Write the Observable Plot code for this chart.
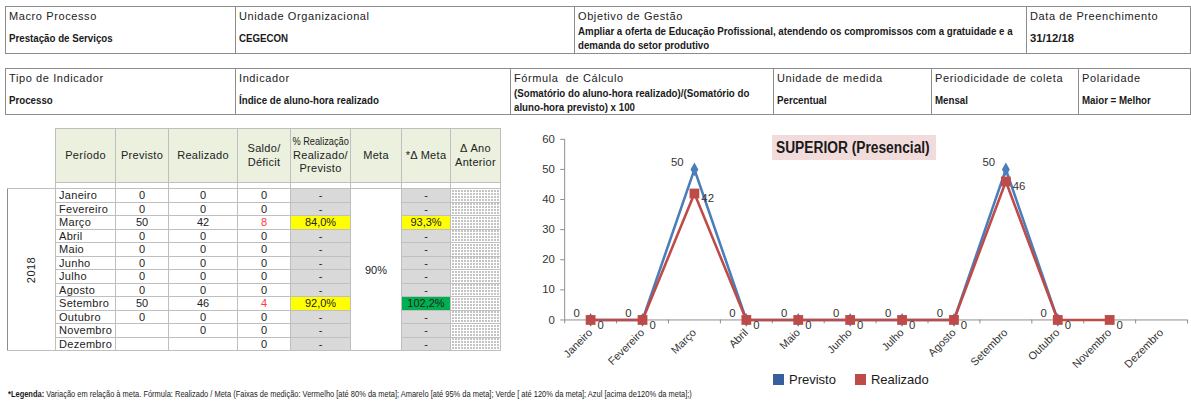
<!DOCTYPE html>
<html><head><meta charset="utf-8">
<script src="https://cdn.jsdelivr.net/npm/d3@7"></script>
<script src="https://cdn.jsdelivr.net/npm/@observablehq/plot@0.6"></script>
<style>
html,body{margin:0;padding:0;background:#fff;overflow:hidden;}
#page{position:relative;width:1191px;height:402px;overflow:hidden;font-family:"Liberation Sans",Arial,sans-serif;color:#1a1a1a;}
table{border-collapse:collapse;table-layout:fixed;}
.c{display:inline-block;transform-origin:0 50%;transform:scaleX(0.86);white-space:nowrap;}
.hdr{position:absolute;left:5px;font-size:11px;border:1px solid #8c8c8c;}
.hdr td{border-left:1px solid #8c8c8c;border-right:1px solid #8c8c8c;padding:0 0 0 3px;vertical-align:middle;white-space:nowrap;overflow:hidden;}
.hdr tr.lab td{height:17px;letter-spacing:0.6px;font-weight:normal;color:#222;}
.hdr tr.val td{font-weight:bold;line-height:14px;font-size:11.3px;}
#dt{position:absolute;left:7px;top:128px;font-size:11px;color:#222;}
#dt td{border:1px solid #bfbfbf;padding:0;text-align:center;white-space:nowrap;overflow:hidden;line-height:12px;}
#dt tr.head td{background:#ebf1de;letter-spacing:0.3px;line-height:13.5px;}
#dt td.blank{border:none;background:#fff !important;}
#dt tr.row{height:13.5px;}
#dt td.per{text-align:left;padding-left:3px;letter-spacing:0.3px;}
#dt td.gray{background:#d9d9d9;}
#dt td.yel{background:#ffff00;}
#dt td.grn{background:#00b050;border-left:1px solid #00703c;}
#dt td.red{color:#ff3b3b;}
#dt td.dots{background-color:#fff;background-image:radial-gradient(circle at 1.5px 1.5px, #111 0.55px, transparent 0.95px);background-size:3px 3px;}
#dt td.year{border-left:1px solid #8c8c8c;}
#dt td.year span{display:inline-block;transform:rotate(-90deg);letter-spacing:0.5px;}
.sq{display:inline-block;transform:scaleX(0.84);margin:0 -7px;letter-spacing:0;}
#chartWrap{position:absolute;left:500px;top:125px;width:691px;height:262px;overflow:hidden;}
#title{position:absolute;left:772px;top:135px;width:164px;height:25px;background:#f2dcdb;font-weight:bold;font-size:16px;line-height:25px;color:#1a1a1a;white-space:nowrap;overflow:hidden;}
#title span{display:inline-block;transform-origin:0 50%;transform:scaleX(0.86);margin-left:4px;}
#legend{position:absolute;left:773px;top:372px;font-size:13px;color:#1a1a1a;display:flex;align-items:center;}
#legend .sw{display:inline-block;width:11px;height:11px;margin-right:5px;}
#legend .item{display:flex;align-items:center;margin-right:19px;}
#foot{position:absolute;left:8px;top:389px;font-size:8.5px;color:#1a1a1a;white-space:nowrap;transform-origin:0 50%;transform:scaleX(0.88);}
</style>
</head><body>
<div id="page">
  <table class="hdr" style="top:6px;width:1185px;">
    <colgroup><col style="width:230px"><col style="width:339px"><col style="width:452px"><col style="width:164px"></colgroup>
    <tr class="lab"><td>Macro Processo</td><td>Unidade Organizacional</td><td>Objetivo de Gestão</td><td>Data de Preenchimento</td></tr>
    <tr class="val" style="height:29px"><td><span class="c">Prestação de Serviços</span></td><td><span class="c">CEGECON</span></td><td><span class="c">Ampliar a oferta de Educação Profissional, atendendo os compromissos com a gratuidade e a<br>demanda do setor produtivo</span></td><td><span class="c" style="transform:none">31/12/18</span></td></tr>
  </table>
  <table class="hdr" style="top:68px;width:1185px;">
    <colgroup><col style="width:230px"><col style="width:275px"><col style="width:263px"><col style="width:158px"><col style="width:147px"><col style="width:112px"></colgroup>
    <tr class="lab"><td>Tipo de Indicador</td><td>Indicador</td><td>Fórmula &nbsp;de Cálculo</td><td>Unidade de medida</td><td>Periodicidade de coleta</td><td>Polaridade</td></tr>
    <tr class="val" style="height:28px"><td><span class="c">Processo</span></td><td><span class="c">Índice de aluno-hora realizado</span></td><td><span class="c">(Somatório do aluno-hora realizado)/(Somatório do<br>aluno-hora previsto) x 100</span></td><td><span class="c">Percentual</span></td><td><span class="c">Mensal</span></td><td><span class="c">Maior = Melhor</span></td></tr>
  </table>
  <table id="dt" style="width:493px;">
    <colgroup><col style="width:48px"><col style="width:60px"><col style="width:53px"><col style="width:69px"><col style="width:53px"><col style="width:60px"><col style="width:51px"><col style="width:49px"><col style="width:50px"></colgroup>
    <tbody id="dtbody"></tbody>
  </table>
  <div id="chartWrap"></div>
  <div id="title"><span>SUPERIOR (Presencial)</span></div>
  <div id="legend"></div>
  <div id="foot"><b>*Legenda:</b> Variação em relação à meta. Fórmula: Realizado / Meta (Faixas de medição: Vermelho [até 80% da meta]; Amarelo [até 95% da meta]; Verde [ até 120% da meta]; Azul [acima de120% da meta];)</div>
</div>
<script>
// ---- data ----
const year = "2018";
const months = ["Janeiro","Fevereiro","Março","Abril","Maio","Junho","Julho","Agosto","Setembro","Outubro","Novembro","Dezembro"];
const previsto = [0,0,50,0,0,0,0,0,50,0,null,null];
const realizado = [0,0,42,0,0,0,0,0,46,0,0,null];
const saldo = [0,0,8,0,0,0,0,0,4,0,0,0];
const pctRealizacao = [null,null,"84,0%",null,null,null,null,null,"92,0%",null,null,null];
const deltaMeta = [null,null,"93,3%",null,null,null,null,null,"102,2%",null,null,null];
const meta = "90%";
const headers = ["Período","Previsto","Realizado","Saldo/<br>Déficit","<span class='sq'>% Realização</span><br>Realizado/<br>Previsto","Meta","*Δ Meta","Δ Ano<br>Anterior"];
const yTicks = [0,10,20,30,40,50,60];
const seriesNames = ["Previsto","Realizado"];
const seriesColors = ["#4a7ebb","#be4b48"];
const legendColors = ["#35609c","#be4b48"];

// ---- table ----
const tb = document.getElementById("dtbody");
let html = '<tr class="head" style="height:54px"><td class="blank"></td>' +
  headers.map(h => `<td>${h}</td>`).join("") + '</tr>';
html += '<tr style="height:6px"><td class="blank"></td>' + headers.map(() => '<td></td>').join("") + '</tr>';
months.forEach((m, i) => {
  const fmt = v => v == null ? "" : String(v);
  html += '<tr class="row">';
  if (i === 0) html += `<td class="year" rowspan="${months.length}"><span>${year}</span></td>`;
  html += `<td class="per">${m}</td>`;
  html += `<td>${fmt(previsto[i])}</td>`;
  html += `<td>${fmt(realizado[i])}</td>`;
  html += `<td class="${saldo[i] > 0 ? "red" : ""}">${fmt(saldo[i])}</td>`;
  html += `<td class="${pctRealizacao[i] ? "yel" : "gray"}">${pctRealizacao[i] || "-"}</td>`;
  if (i === 0) html += `<td rowspan="${months.length}" style="background:#fff">${meta}</td>`;
  const dm = deltaMeta[i];
  const dmCls = dm == null ? "gray" : (parseFloat(dm.replace(",", ".")) >= 95 ? "grn" : "yel");
  html += `<td class="${dmCls}">${dm || "-"}</td>`;
  html += `<td class="dots"></td>`;
  html += '</tr>';
});
tb.innerHTML = html;

// ---- legend ----
document.getElementById("legend").innerHTML = seriesNames.map((n, k) =>
  `<span class="item"><span class="sw" style="background:${legendColors[k]}"></span>${n}</span>`).join("");

// ---- chart ----
const idx = d3.range(months.length);
const prevData = idx.filter(i => previsto[i] != null).map(i => ({i, v: previsto[i]}));
const realData = idx.filter(i => realizado[i] != null).map(i => ({i, v: realizado[i]}));
const boundaries = d3.range(months.length + 1).map(i => i - 0.5);

const chart = Plot.plot({
  width: 700, height: 262,
  marginLeft: 65, marginRight: 4, marginTop: 14, marginBottom: 65,
  style: {fontFamily: '"Liberation Sans",Arial,sans-serif', fontSize: "11px", color: "#333", background: "transparent"},
  x: {type: "linear", domain: [-0.5, months.length - 0.5], axis: null, label: null},
  y: {domain: [0, 60], axis: null, label: null},
  marks: [
    Plot.ruleY([0], {stroke: "#8c8c8c"}),
    Plot.ruleX([-0.5], {y1: 0, y2: 60, stroke: "#8c8c8c"}),
    Plot.axisY({ticks: yTicks, tickSize: 4, tickPadding: 6, stroke: "#8c8c8c", fill: "#333", fontSize: 11.5, label: null}),
    Plot.axisX({ticks: boundaries, tickSize: 4, tickFormat: () => "", stroke: "#8c8c8c", label: null}),
    Plot.axisX({ticks: idx, tickFormat: i => months[i], tickRotate: -45, tickSize: 0, tickPadding: 11, dx: 0, fill: "#333", fontSize: 11, label: null}),
    Plot.line(prevData, {x: "i", y: "v", stroke: seriesColors[0], strokeWidth: 2.6}),
    Plot.dot(prevData, {x: "i", y: "v", symbol: "diamond", r: 4.2, fill: seriesColors[0]}),
    Plot.line(realData, {x: "i", y: "v", stroke: seriesColors[1], strokeWidth: 2.6}),
    Plot.dot(realData, {x: "i", y: "v", symbol: "square", r: 5.6, fill: seriesColors[1]}),
    Plot.text(prevData, {x: "i", y: "v", text: d => String(d.v), textAnchor: "end", dx: -11, dy: -7, fontSize: 11.5, fill: "#333"}),
    Plot.text(realData, {x: "i", y: "v", text: d => String(d.v), textAnchor: "start", dx: 7, dy: 5, fontSize: 11.5, fill: "#333"})
  ]
});
document.getElementById("chartWrap").appendChild(chart);
</script>
</body></html>
